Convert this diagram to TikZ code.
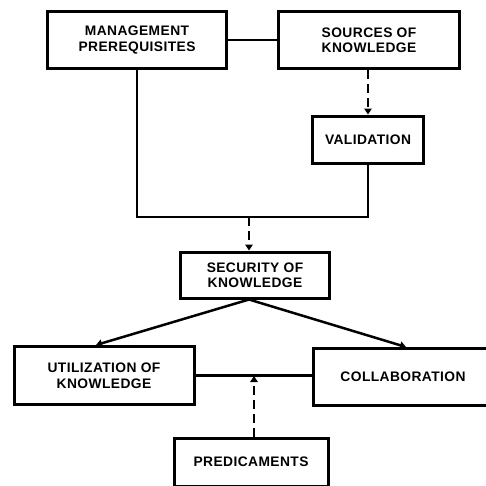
\documentclass[tikz,border=0pt]{standalone}
\usepackage{fontspec}
\setmainfont{Liberation Sans}[LetterSpace=3]
\usetikzlibrary{arrows.meta}
\usetikzlibrary{calc}

\begin{document}
\begin{tikzpicture}[x=1pt, y=-1pt,
		box/.style = {draw, rectangle, line width=3pt, align=center, inner sep=0pt, font=\bfseries\fontsize{13.8}{15.5}\selectfont},
		link/.style = {line width=2.8pt},
		dlink/.style = {line width=2.8pt, dash pattern=on 9pt off 5pt, -{Triangle[length=6pt, width=7.5pt]}},
		slink/.style = {line width=2.5pt, -{Triangle[length=6pt, width=7.5pt]}}]
		\useasboundingbox (0, 0) rectangle (486, 485);
		
		\node[box, minimum width=179, minimum height=57] (mgmt) at (137, 40) {MANAGEMENT\\PREREQUISITES};
		\node[box, minimum width=181, minimum height=57] (sources) at (369, 40) {SOURCES OF\\KNOWLEDGE};
		\node[box, minimum width=111, minimum height=47] (valid) at (368, 139.5) {VALIDATION};
		\node[box, minimum width=149, minimum height=46] (secure) at (255, 275) {SECURITY OF\\KNOWLEDGE};
		\node[box, minimum width=180, minimum height=58] (utilize) at (104, 375.5) {UTILIZATION OF\\KNOWLEDGE};
		\node[box, minimum width=180, minimum height=57] (collab) at (403, 377) {COLLABORATION};
		\node[box, minimum width=154, minimum height=48] (predic) at (251, 462) {PREDICAMENTS};
		
		\coordinate (join) at (249, 217);
		\coordinate (meet) at (254, 376);
		
		\draw[link] (mgmt) -- (sources);
		\draw[dlink] (sources.south -| valid.north) -- (valid.north);
		\draw[link] (mgmt.south) |- (join) -| (valid.south);
		\draw[dlink] (join) -- (join |- secure.north);
		
		\draw[slink] (join |- secure.south) -- ($(utilize.north) + (-8, 0)$);
		\draw[slink] (join |- secure.south) -- ($(collab.north) + (3, 0)$);
		\draw[link] (utilize.east) -- (utilize.east -| collab.west);
		\draw[dlink] (predic.north -| meet) -- (meet);
\end{tikzpicture}
\end{document}
